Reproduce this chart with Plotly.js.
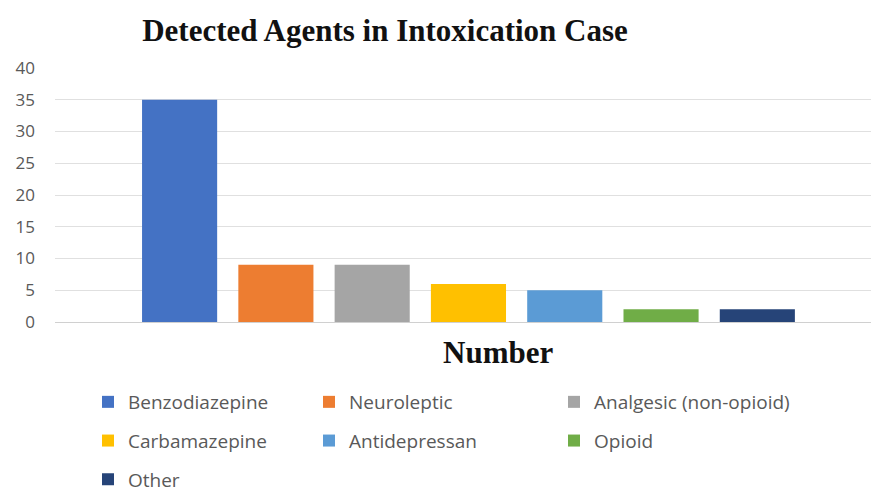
<!DOCTYPE html>
<html>
<head>
<meta charset="utf-8">
<script src="https://cdn.plot.ly/plotly-3.0.1.min.js"></script>
<style>html,body{margin:0;padding:0;background:#fff;}#chart{width:871px;height:494px;}</style>
</head>
<body>
<div id="chart"></div>
<script>
const category = ["Number"];
const agents = ["Benzodiazepine", "Neuroleptic", "Analgesic (non-opioid)", "Carbamazepine", "Antidepressan", "Opioid", "Other"];
const counts = [35, 9, 9, 6, 5, 2, 2];
const colors = ["#4472C4", "#ED7D31", "#A5A5A5", "#FFC000", "#5B9BD5", "#70AD47", "#264478"];
const legendFor = ["legend", "legend2", "legend3", "legend", "legend2", "legend3", "legend"];
const yTicks = [0, 5, 10, 15, 20, 25, 30, 35, 40];

const traces = agents.map((name, i) => ({
  type: "bar",
  name: name,
  x: category,
  y: [counts[i]],
  marker: {color: colors[i], line: {width: 0}},
  legend: legendFor[i],
  legendgroup: "g" + i,
  hoverinfo: "name+y"
}));

const legendFont = {family: "'Open Sans', sans-serif", size: 19, color: "#595959"};
function mkLegend(xpx) {
  return {
    xref: "container", yref: "container",
    x: xpx / 871, y: 1 - 383 / 494,
    xanchor: "left", yanchor: "top",
    orientation: "v",
    traceorder: "grouped",
    tracegroupgap: 11,
    itemwidth: 30,
    font: legendFont,
    bgcolor: "rgba(0,0,0,0)"
  };
}

const layout = {
  width: 871, height: 494,
  paper_bgcolor: "#fff", plot_bgcolor: "#fff",
  margin: {l: 55, r: 0, t: 68, b: 172, autoexpand: false},
  title: {
    text: "<b>Detected Agents in Intoxication Case</b>",
    font: {family: "'Liberation Serif', 'Times New Roman', serif", size: 31, color: "#111"},
    x: 385 / 871, xanchor: "center", xref: "container",
    y: 1 - 30 / 494, yanchor: "middle", yref: "container"
  },
  barmode: "group",
  bargap: 0.174,
  bargroupgap: 0.22,
  xaxis: {
    type: "category",
    range: [-0.5067, 0.4933],
    showticklabels: false,
    showgrid: false,
    zeroline: false,
    showline: false,
    ticks: ""
  },
  yaxis: {
    range: [0, 40],
    tickvals: yTicks,
    ticktext: yTicks.map(String),
    tickfont: {family: "'Open Sans', sans-serif", size: 17, color: "#595959"},
    showgrid: true,
    gridcolor: "#e0e0e0",
    gridwidth: 1,
    zeroline: true,
    zerolinecolor: "#d0d0d0",
    zerolinewidth: 1,
    showline: false,
    ticks: "",
    ticklabelstandoff: 19
  },
  annotations: [{
    text: "<b>Number</b>",
    xref: "paper", yref: "paper",
    x: (498 - 55) / 816, y: -((352 - 322) / 254),
    xanchor: "center", yanchor: "middle",
    showarrow: false,
    font: {family: "'Liberation Serif', 'Times New Roman', serif", size: 31, color: "#111"}
  }],
  legend: mkLegend(88),
  legend2: mkLegend(309),
  legend3: mkLegend(554),
  showlegend: true
};

Plotly.newPlot("chart", traces, layout, {displayModeBar: false, responsive: false});
</script>
</body>
</html>
